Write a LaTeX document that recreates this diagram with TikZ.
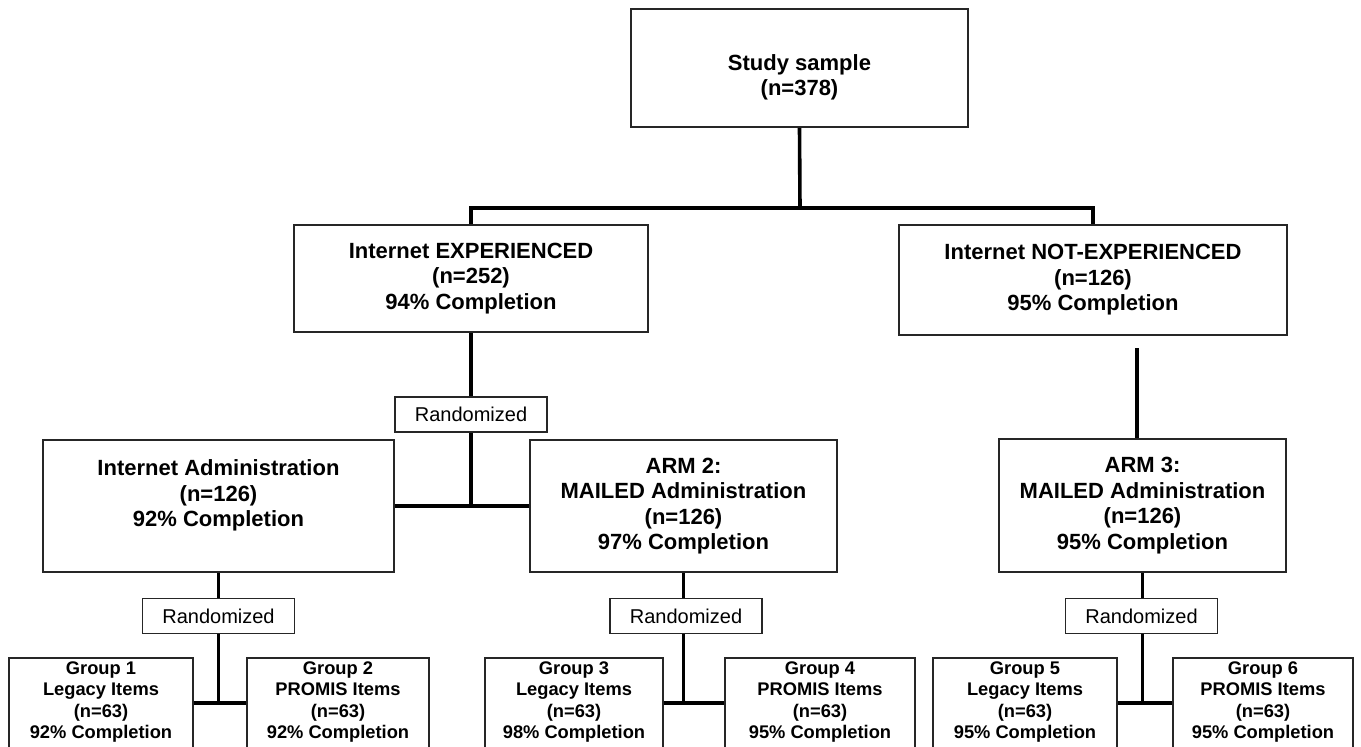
\documentclass[tikz,border=0pt]{standalone}
\usepackage{fontspec}
\setmainfont{Liberation Sans}
\begin{document}
\begin{tikzpicture}[x=1pt,y=-1pt,
  bx/.style={draw=black!85, line width=1.6pt, inner sep=0pt, align=center,
    font=\bfseries\fontsize{22}{25.5}\selectfont},
  txt/.style={inner sep=0pt, align=center, font=\bfseries\fontsize{22}{25}\selectfont},
  rbox/.style={draw=black!85, line width=1.4pt, inner sep=0pt, minimum width=152,
    minimum height=35, font=\fontsize{20}{24}\selectfont},
  gbox/.style={draw=black!85, line width=1.6pt, anchor=north, minimum height=150, inner sep=0pt},
  gtxt/.style={align=center, inner sep=0pt, font=\bfseries\fontsize{18.3}{21.5}\selectfont},
  conn/.style={line width=3.6pt, black}]
\useasboundingbox (0,0) rectangle (1361,747);
\clip (0,0) rectangle (1361,747);

% top
\node[bx, minimum width=337, minimum height=118] (top) at (799.5,68) {};
\node[txt] (toptxt) at (799.5,77) {Study sample\\(n=378)};

% second level
\node[bx, minimum width=354, minimum height=107] (ie) at (471,278.5)
  {Internet EXPERIENCED\\(n=252)\\94\% Completion};
\node[bx, minimum width=388, minimum height=110] (ne) at (1093,280)
  {Internet NOT-EXPERIENCED\\(n=126)\\95\% Completion};

\node[rbox] (r1) at (471,414.5) {Randomized};

% third level
\node[bx, minimum width=351, minimum height=132] (ia) at (218.5,506)
  {Internet Administration\\(n=126)\\92\% Completion\\\mbox{}};
\node[bx, minimum width=307, minimum height=132] (a2) at (683.5,506)
  {ARM 2:\\MAILED Administration\\(n=126)\\97\% Completion};
\node[bx, minimum width=287, minimum height=133] (a3) at (1142.5,505.5)
  {ARM 3:\\MAILED Administration\\(n=126)\\95\% Completion};

\node[rbox] (r2) at (218.5,616) {Randomized};
\node[rbox] (r3) at (686,616) {Randomized};
\node[rbox] (r4) at (1141.5,616) {Randomized};

% groups
\node[gbox, minimum width=184] (g1) at (101,657) {};
\node[gtxt] (t1) at (101,702) {Group 1\\Legacy Items\\(n=63)\\92\% Completion};
\node[gbox, minimum width=182] (g2) at (338,657) {};
\node[gtxt] (t2) at (338,702) {Group 2\\PROMIS Items\\(n=63)\\92\% Completion};
\node[gbox, minimum width=178] (g3) at (574,657) {};
\node[gtxt] (t3) at (574,702) {Group 3\\Legacy Items\\(n=63)\\98\% Completion};
\node[gbox, minimum width=190] (g4) at (820,657) {};
\node[gtxt] (t4) at (820,702) {Group 4\\PROMIS Items\\(n=63)\\95\% Completion};
\node[gbox, minimum width=184] (g5) at (1025,657) {};
\node[gtxt] (t5) at (1025,702) {Group 5\\Legacy Items\\(n=63)\\95\% Completion};
\node[gbox, minimum width=180] (g6) at (1263,657) {};
\node[gtxt] (t6) at (1263,702) {Group 6\\PROMIS Items\\(n=63)\\95\% Completion};

% junction coordinates
\coordinate (j1) at (800,208);
\coordinate (n3) at (1137,348);
\coordinate (b1) at (218.5,703);
\coordinate (b2) at (683.5,703);
\coordinate (b3) at (1142.5,703);

% connectors
\draw[conn] (top.south) -- (j1);
\draw[conn] (ie.north) |- (j1) -| (ne.north);
\draw[conn] (ie.south) -- (r1.north);
\draw[conn] (r1.south) -- (r1.south |- ia.east);
\draw[conn] (ia.east) -- (a2.west);
\draw[conn] (n3) -- (n3 |- a3.north);

\draw[conn] (ia.south) -- (r2.north);
\draw[conn] (r2.south) -- (b1);
\draw[conn] (g1.east |- b1) -- (g2.west |- b1);

\draw[conn] (a2.south) -- (a2.south |- r3.north);
\draw[conn] (a2.south |- r3.south) -- (b2);
\draw[conn] (g3.east |- b2) -- (g4.west |- b2);

\draw[conn] (a3.south) -- (a3.south |- r4.north);
\draw[conn] (a3.south |- r4.south) -- (b3);
\draw[conn] (g5.east |- b3) -- (g6.west |- b3);
\end{tikzpicture}
\end{document}
